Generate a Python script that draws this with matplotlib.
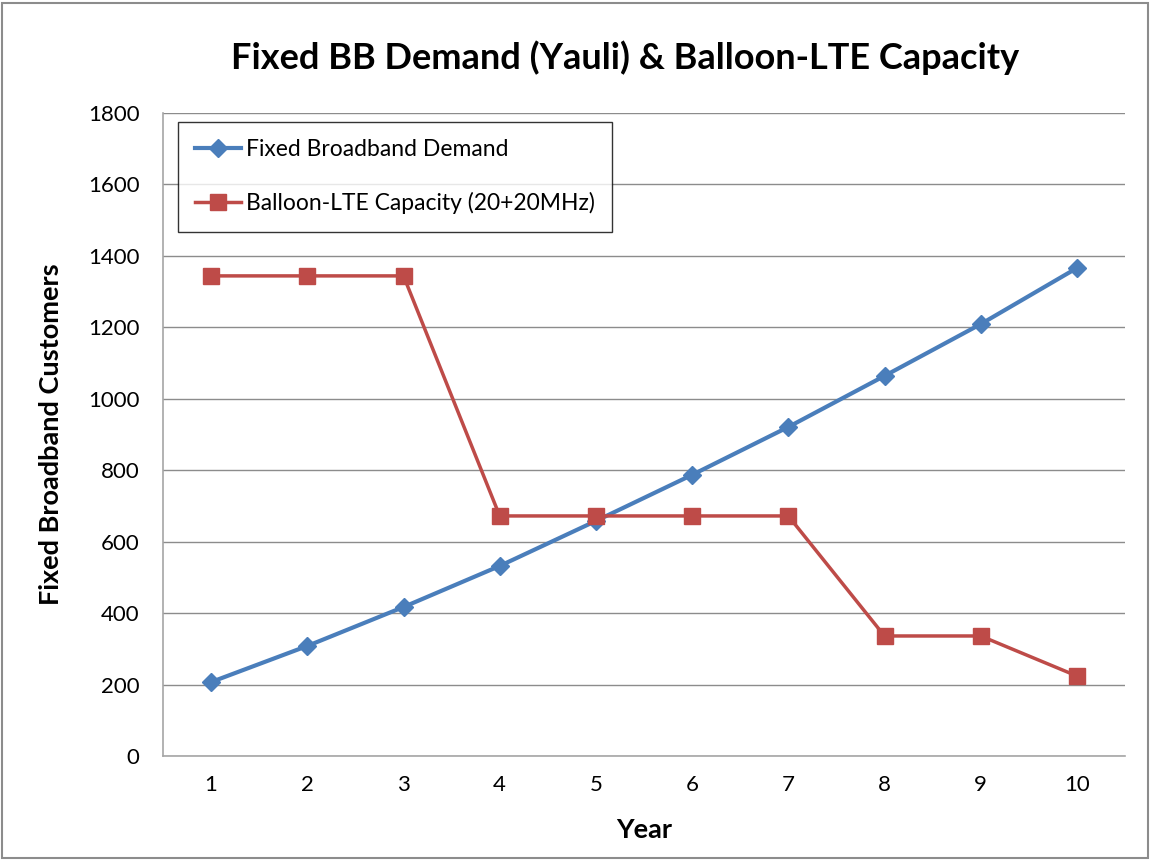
import matplotlib
matplotlib.use("Agg")
import matplotlib.pyplot as plt
from matplotlib.patches import Rectangle

plt.rcParams['font.family'] = ['Lato', 'DejaVu Sans']

years = [1, 2, 3, 4, 5, 6, 7, 8, 9, 10]
demand = [207, 308, 417, 532, 658, 787, 921, 1064, 1209, 1366]
capacity = [1344, 1344, 1344, 672, 672, 672, 672, 336, 336, 224]

blue = "#4a7ebb"
red = "#be4b48"

fig = plt.figure(figsize=(11.5, 8.6), dpi=100)
ax = fig.add_axes([163 / 1150, 1 - 756 / 860, (1125 - 163) / 1150, (756 - 113) / 860])

ax.plot(years, demand, color=blue, lw=3, marker="D", ms=9, label="Fixed Broadband Demand")
ax.plot(years, capacity, color=red, lw=2.5, marker="s", ms=11, label="Balloon-LTE Capacity (20+20MHz)")

ax.set_xlim(0.5, 10.5)
ax.set_ylim(0, 1800)
ax.set_xticks(years)
ax.set_yticks(range(0, 1801, 200))
ax.tick_params(length=0, labelsize=16, pad=14)
ax.tick_params(axis="y", pad=17)
ax.grid(axis="y", color="#8c8c8c", lw=1)
ax.set_axisbelow(True)
for s in ax.spines.values():
    s.set_color("#a6a6a6")
    s.set_linewidth(1.2)
ax.spines["top"].set_visible(False)
ax.spines["right"].set_visible(False)

ax.set_xlabel("Year", fontsize=19.5, fontweight="bold", labelpad=16)
ax.set_ylabel("Fixed Broadband Customers", fontsize=19.5, fontweight="bold", labelpad=18)
fig.text(625 / 1150, 1 - 58 / 860, "Fixed BB Demand (Yauli) & Balloon-LTE Capacity",
         ha="center", va="center", fontsize=26, fontweight="bold")

leg = ax.legend(loc="upper left", bbox_to_anchor=((178 - 163) / 962, 1 - (122 - 113) / 643),
                fontsize=16.5, frameon=True, fancybox=False, borderpad=0.75,
                labelspacing=1.4, handlelength=2.0, handletextpad=0.2, borderaxespad=0)
leg.get_frame().set_edgecolor("black")
leg.get_frame().set_linewidth(1)

fig.patches.append(Rectangle((0.002, 0.002), 0.996, 0.995, transform=fig.transFigure,
                             fill=False, edgecolor="#8c8c8c", lw=1.5))

fig.savefig("out.png", dpi=100)
